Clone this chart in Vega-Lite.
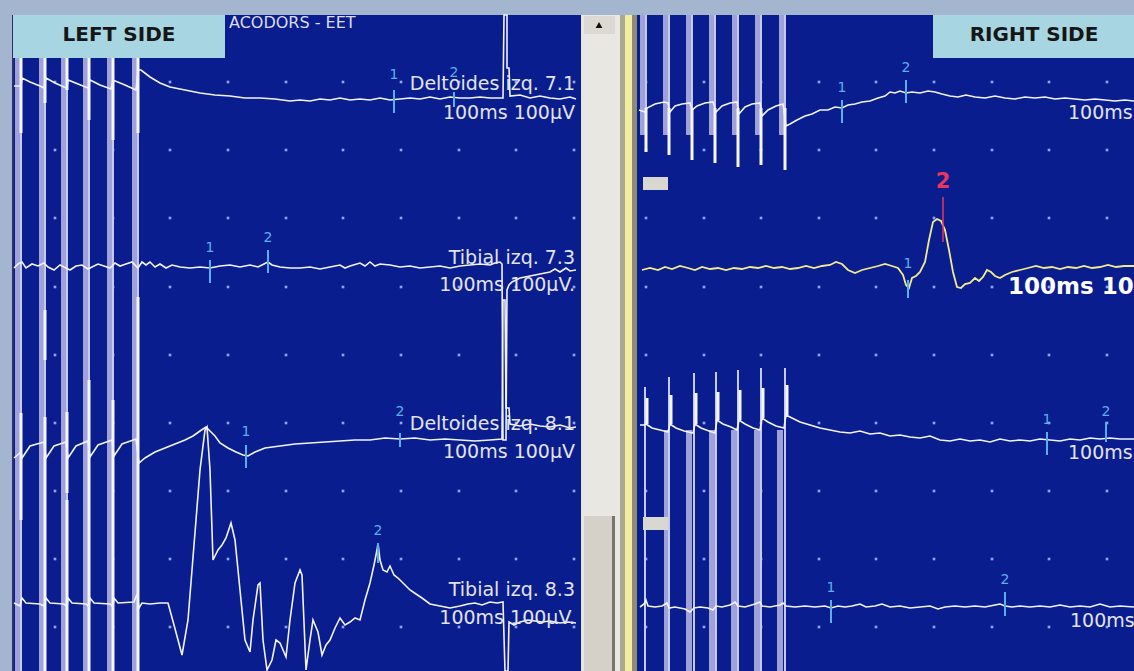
{
"$schema":"https://vega.github.io/schema/vega-lite/v6.json",
"width":1134,"height":671,
"autosize":{"type":"none"},
"padding":0,
"background":"#a3b5cf",
"config":{"view":{"stroke":null},"text":{"font":"DejaVu Sans"}},
"datasets":{
"frame":[
{"part":"panel","x":12,"x2":581,"y":15,"y2":671},
{"part":"panel","x":637,"x2":1134,"y":15,"y2":671},
{"part":"track","x":581,"x2":620,"y":15,"y2":671},
{"part":"thumb","x":584,"x2":612,"y":516,"y2":671},
{"part":"thumbEdge","x":612,"x2":615,"y":516,"y2":671},
{"part":"button","x":584,"x2":615,"y":16,"y2":34},
{"part":"divider","x":620,"x2":625,"y":15,"y2":671},
{"part":"yellow","x":625,"x2":632,"y":15,"y2":671},
{"part":"dividerDark","x":632,"x2":637,"y":15,"y2":671},
{"part":"edge","x":12,"x2":14,"y":15,"y2":671}
],
"frameTop":[
{"part":"box","x":13,"x2":225,"y":15,"y2":58},
{"part":"box","x":933,"x2":1134,"y":15,"y2":58},
{"part":"handle","x":643,"x2":668,"y":177,"y2":190},
{"part":"handle","x":643,"x2":668,"y":517,"y2":530}
],
"arrow":[{"x":599,"y":25}],
"boxText":[{"x":119,"y":35,"t":"LEFT SIDE"},{"x":1034,"y":35,"t":"RIGHT SIDE"}],
"title":[{"x":229,"y":23,"t":"ACODORS - EET"}],
"dots":[
{"x":55,"y":82},{"x":113,"y":82},{"x":170,"y":82},{"x":228,"y":82},{"x":286,"y":82},{"x":343,"y":82},{"x":401,"y":82},{"x":459,"y":82},{"x":516,"y":82},{"x":574,"y":82},
{"x":55,"y":150},{"x":113,"y":150},{"x":170,"y":150},{"x":228,"y":150},{"x":286,"y":150},{"x":343,"y":150},{"x":401,"y":150},{"x":459,"y":150},{"x":516,"y":150},{"x":574,"y":150},
{"x":55,"y":218},{"x":113,"y":218},{"x":170,"y":218},{"x":228,"y":218},{"x":286,"y":218},{"x":343,"y":218},{"x":401,"y":218},{"x":459,"y":218},{"x":516,"y":218},{"x":574,"y":218},
{"x":55,"y":287},{"x":113,"y":287},{"x":170,"y":287},{"x":228,"y":287},{"x":286,"y":287},{"x":343,"y":287},{"x":401,"y":287},{"x":459,"y":287},{"x":516,"y":287},{"x":574,"y":287},
{"x":55,"y":355},{"x":113,"y":355},{"x":170,"y":355},{"x":228,"y":355},{"x":286,"y":355},{"x":343,"y":355},{"x":401,"y":355},{"x":459,"y":355},{"x":516,"y":355},{"x":574,"y":355},
{"x":55,"y":423},{"x":113,"y":423},{"x":170,"y":423},{"x":228,"y":423},{"x":286,"y":423},{"x":343,"y":423},{"x":401,"y":423},{"x":459,"y":423},{"x":516,"y":423},{"x":574,"y":423},
{"x":55,"y":491},{"x":113,"y":491},{"x":170,"y":491},{"x":228,"y":491},{"x":286,"y":491},{"x":343,"y":491},{"x":401,"y":491},{"x":459,"y":491},{"x":516,"y":491},{"x":574,"y":491},
{"x":55,"y":559},{"x":113,"y":559},{"x":170,"y":559},{"x":228,"y":559},{"x":286,"y":559},{"x":343,"y":559},{"x":401,"y":559},{"x":459,"y":559},{"x":516,"y":559},{"x":574,"y":559},
{"x":55,"y":627},{"x":113,"y":627},{"x":170,"y":627},{"x":228,"y":627},{"x":286,"y":627},{"x":343,"y":627},{"x":401,"y":627},{"x":459,"y":627},{"x":516,"y":627},{"x":574,"y":627},
{"x":646,"y":82},{"x":704,"y":82},{"x":761,"y":82},{"x":819,"y":82},{"x":876,"y":82},{"x":934,"y":82},{"x":992,"y":82},{"x":1049,"y":82},{"x":1107,"y":82},
{"x":646,"y":150},{"x":704,"y":150},{"x":761,"y":150},{"x":819,"y":150},{"x":876,"y":150},{"x":934,"y":150},{"x":992,"y":150},{"x":1049,"y":150},{"x":1107,"y":150},
{"x":646,"y":218},{"x":704,"y":218},{"x":761,"y":218},{"x":819,"y":218},{"x":876,"y":218},{"x":934,"y":218},{"x":992,"y":218},{"x":1049,"y":218},{"x":1107,"y":218},
{"x":646,"y":287},{"x":704,"y":287},{"x":761,"y":287},{"x":819,"y":287},{"x":876,"y":287},{"x":934,"y":287},{"x":992,"y":287},{"x":1049,"y":287},{"x":1107,"y":287},
{"x":646,"y":355},{"x":704,"y":355},{"x":761,"y":355},{"x":819,"y":355},{"x":876,"y":355},{"x":934,"y":355},{"x":992,"y":355},{"x":1049,"y":355},{"x":1107,"y":355},
{"x":646,"y":423},{"x":704,"y":423},{"x":761,"y":423},{"x":819,"y":423},{"x":876,"y":423},{"x":934,"y":423},{"x":992,"y":423},{"x":1049,"y":423},{"x":1107,"y":423},
{"x":646,"y":491},{"x":704,"y":491},{"x":761,"y":491},{"x":819,"y":491},{"x":876,"y":491},{"x":934,"y":491},{"x":992,"y":491},{"x":1049,"y":491},{"x":1107,"y":491},
{"x":646,"y":559},{"x":704,"y":559},{"x":761,"y":559},{"x":819,"y":559},{"x":876,"y":559},{"x":934,"y":559},{"x":992,"y":559},{"x":1049,"y":559},{"x":1107,"y":559},
{"x":646,"y":627},{"x":704,"y":627},{"x":761,"y":627},{"x":819,"y":627},{"x":876,"y":627},{"x":934,"y":627},{"x":992,"y":627},{"x":1049,"y":627},{"x":1107,"y":627}
],
"stim":[
{"k":"bar","x":18,"y1":58,"y2":671},{"k":"bar","x":42,"y1":58,"y2":671},{"k":"bar","x":64,"y1":58,"y2":671},{"k":"bar","x":86,"y1":58,"y2":671},{"k":"bar","x":110,"y1":58,"y2":671},{"k":"bar","x":135,"y1":58,"y2":671},
{"k":"thin","x":21,"y1":58,"y2":671},{"k":"thin","x":45,"y1":58,"y2":671},{"k":"thin","x":67,"y1":58,"y2":671},{"k":"thin","x":89,"y1":58,"y2":671},{"k":"thin","x":113,"y1":58,"y2":671},{"k":"thin","x":138,"y1":58,"y2":671},
{"k":"line","x":21,"y1":58,"y2":133},{"k":"line","x":21,"y1":413,"y2":520},
{"k":"line","x":45,"y1":58,"y2":103},{"k":"line","x":45,"y1":310,"y2":360},{"k":"line","x":45,"y1":417,"y2":671},
{"k":"line","x":67,"y1":58,"y2":90},{"k":"line","x":67,"y1":412,"y2":493},{"k":"line","x":67,"y1":500,"y2":671},
{"k":"line","x":89,"y1":58,"y2":120},{"k":"line","x":89,"y1":380,"y2":671},
{"k":"line","x":113,"y1":58,"y2":140},{"k":"line","x":113,"y1":400,"y2":671},
{"k":"line","x":138,"y1":58,"y2":133},{"k":"line","x":138,"y1":297,"y2":671},
{"k":"bar","x":643,"y1":15,"y2":135},{"k":"bar","x":666,"y1":15,"y2":135},{"k":"bar","x":689,"y1":15,"y2":135},{"k":"bar","x":712,"y1":15,"y2":135},{"k":"bar","x":735,"y1":15,"y2":135},{"k":"bar","x":758,"y1":15,"y2":135},{"k":"bar","x":782,"y1":15,"y2":135},
{"k":"thin","x":646,"y1":15,"y2":108},{"k":"thin","x":669,"y1":15,"y2":108},{"k":"thin","x":692,"y1":15,"y2":108},{"k":"thin","x":715,"y1":15,"y2":108},{"k":"thin","x":738,"y1":15,"y2":108},{"k":"thin","x":761,"y1":15,"y2":108},{"k":"thin","x":785,"y1":15,"y2":108},
{"k":"line","x":646,"y1":108,"y2":152},{"k":"line","x":669,"y1":108,"y2":155},{"k":"line","x":692,"y1":108,"y2":160},{"k":"line","x":715,"y1":108,"y2":163},{"k":"line","x":738,"y1":108,"y2":167},{"k":"line","x":761,"y1":108,"y2":165},{"k":"line","x":785,"y1":108,"y2":170},
{"k":"bar","x":667,"y1":430,"y2":671},{"k":"bar","x":689,"y1":430,"y2":671},{"k":"bar","x":712,"y1":430,"y2":671},{"k":"bar","x":734,"y1":430,"y2":671},{"k":"bar","x":757,"y1":430,"y2":671},{"k":"bar","x":780,"y1":430,"y2":671},
{"k":"thin","x":645,"y1":387,"y2":671},{"k":"thin","x":669,"y1":377,"y2":671},{"k":"thin","x":694,"y1":373,"y2":671},{"k":"thin","x":716,"y1":372,"y2":671},{"k":"thin","x":738,"y1":370,"y2":671},{"k":"thin","x":761,"y1":368,"y2":671},{"k":"thin","x":785,"y1":368,"y2":671},
{"k":"line","x":647,"y1":398,"y2":424},{"k":"line","x":671,"y1":395,"y2":424},{"k":"line","x":696,"y1":393,"y2":424},{"k":"line","x":718,"y1":392,"y2":420},{"k":"line","x":740,"y1":390,"y2":420},{"k":"line","x":763,"y1":388,"y2":418},{"k":"line","x":787,"y1":385,"y2":415}
],
"traces":[
{"s":"L1","x":14,"y":86},{"s":"L1","x":21,"y":86},{"s":"L1","x":22,"y":78},{"s":"L1","x":30,"y":82},{"s":"L1","x":40,"y":86},{"s":"L1","x":44,"y":88},{"s":"L1","x":46,"y":78},{"s":"L1","x":55,"y":83},{"s":"L1","x":64,"y":87},{"s":"L1","x":67,"y":88},{"s":"L1","x":68,"y":80},{"s":"L1","x":78,"y":84},{"s":"L1","x":88,"y":88},{"s":"L1","x":90,"y":80},{"s":"L1","x":100,"y":85},{"s":"L1","x":111,"y":89},{"s":"L1","x":113,"y":80},{"s":"L1","x":125,"y":85},{"s":"L1","x":136,"y":90},{"s":"L1","x":138,"y":70},{"s":"L1","x":141,"y":70},{"s":"L1","x":150,"y":77},{"s":"L1","x":160,"y":83},{"s":"L1","x":170,"y":87},{"s":"L1","x":185,"y":90},{"s":"L1","x":200,"y":93},{"s":"L1","x":215,"y":95},{"s":"L1","x":230,"y":96},{"s":"L1","x":245,"y":98},{"s":"L1","x":260,"y":98},{"s":"L1","x":275,"y":99},{"s":"L1","x":290,"y":101},{"s":"L1","x":300,"y":100},{"s":"L1","x":310,"y":101},{"s":"L1","x":320,"y":99},{"s":"L1","x":330,"y":100},{"s":"L1","x":340,"y":98},{"s":"L1","x":350,"y":100},{"s":"L1","x":360,"y":99},{"s":"L1","x":370,"y":100},{"s":"L1","x":380,"y":98},{"s":"L1","x":390,"y":100},{"s":"L1","x":400,"y":99},{"s":"L1","x":410,"y":98},{"s":"L1","x":420,"y":99},{"s":"L1","x":430,"y":97},{"s":"L1","x":440,"y":99},{"s":"L1","x":450,"y":97},{"s":"L1","x":460,"y":98},{"s":"L1","x":470,"y":98},{"s":"L1","x":480,"y":97},{"s":"L1","x":490,"y":98},{"s":"L1","x":503,"y":98},{"s":"L1","x":504,"y":15},{"s":"L1","x":507,"y":15},{"s":"L1","x":507,"y":68},{"s":"L1","x":509,"y":68},{"s":"L1","x":510,"y":96},{"s":"L1","x":520,"y":95},{"s":"L1","x":530,"y":98},{"s":"L1","x":540,"y":96},{"s":"L1","x":550,"y":98},{"s":"L1","x":560,"y":99},{"s":"L1","x":570,"y":97},{"s":"L1","x":576,"y":99},
{"s":"L2","x":14,"y":268},{"s":"L2","x":18,"y":264},{"s":"L2","x":22,"y":262},{"s":"L2","x":26,"y":268},{"s":"L2","x":32,"y":264},{"s":"L2","x":38,"y":266},{"s":"L2","x":44,"y":263},{"s":"L2","x":48,"y":267},{"s":"L2","x":54,"y":270},{"s":"L2","x":60,"y":265},{"s":"L2","x":66,"y":268},{"s":"L2","x":70,"y":270},{"s":"L2","x":76,"y":266},{"s":"L2","x":82,"y":265},{"s":"L2","x":88,"y":269},{"s":"L2","x":92,"y":267},{"s":"L2","x":98,"y":264},{"s":"L2","x":104,"y":266},{"s":"L2","x":110,"y":268},{"s":"L2","x":115,"y":263},{"s":"L2","x":120,"y":266},{"s":"L2","x":126,"y":264},{"s":"L2","x":132,"y":262},{"s":"L2","x":138,"y":268},{"s":"L2","x":142,"y":262},{"s":"L2","x":146,"y":265},{"s":"L2","x":150,"y":262},{"s":"L2","x":155,"y":267},{"s":"L2","x":160,"y":264},{"s":"L2","x":166,"y":268},{"s":"L2","x":172,"y":265},{"s":"L2","x":180,"y":267},{"s":"L2","x":190,"y":268},{"s":"L2","x":200,"y":267},{"s":"L2","x":210,"y":268},{"s":"L2","x":220,"y":266},{"s":"L2","x":230,"y":265},{"s":"L2","x":240,"y":267},{"s":"L2","x":250,"y":265},{"s":"L2","x":258,"y":267},{"s":"L2","x":264,"y":264},{"s":"L2","x":268,"y":262},{"s":"L2","x":272,"y":265},{"s":"L2","x":280,"y":267},{"s":"L2","x":290,"y":268},{"s":"L2","x":300,"y":268},{"s":"L2","x":310,"y":267},{"s":"L2","x":320,"y":269},{"s":"L2","x":330,"y":267},{"s":"L2","x":340,"y":265},{"s":"L2","x":345,"y":268},{"s":"L2","x":350,"y":266},{"s":"L2","x":360,"y":263},{"s":"L2","x":365,"y":266},{"s":"L2","x":370,"y":262},{"s":"L2","x":375,"y":266},{"s":"L2","x":380,"y":264},{"s":"L2","x":390,"y":265},{"s":"L2","x":400,"y":267},{"s":"L2","x":410,"y":266},{"s":"L2","x":420,"y":268},{"s":"L2","x":430,"y":267},{"s":"L2","x":440,"y":266},{"s":"L2","x":450,"y":268},{"s":"L2","x":460,"y":266},{"s":"L2","x":470,"y":265},{"s":"L2","x":480,"y":264},{"s":"L2","x":490,"y":265},{"s":"L2","x":495,"y":263},{"s":"L2","x":500,"y":262},{"s":"L2","x":502,"y":264},{"s":"L2","x":503,"y":440},{"s":"L2","x":506,"y":440},{"s":"L2","x":507,"y":290},{"s":"L2","x":509,"y":285},{"s":"L2","x":512,"y":282},{"s":"L2","x":520,"y":278},{"s":"L2","x":530,"y":276},{"s":"L2","x":540,"y":274},{"s":"L2","x":550,"y":272},{"s":"L2","x":555,"y":269},{"s":"L2","x":560,"y":272},{"s":"L2","x":566,"y":268},{"s":"L2","x":570,"y":271},{"s":"L2","x":576,"y":270},
{"s":"L3","x":14,"y":458},{"s":"L3","x":21,"y":452},{"s":"L3","x":22,"y":458},{"s":"L3","x":30,"y":446},{"s":"L3","x":44,"y":442},{"s":"L3","x":46,"y":458},{"s":"L3","x":54,"y":446},{"s":"L3","x":66,"y":442},{"s":"L3","x":68,"y":458},{"s":"L3","x":76,"y":446},{"s":"L3","x":88,"y":441},{"s":"L3","x":90,"y":457},{"s":"L3","x":98,"y":445},{"s":"L3","x":112,"y":440},{"s":"L3","x":114,"y":456},{"s":"L3","x":122,"y":444},{"s":"L3","x":136,"y":439},{"s":"L3","x":139,"y":463},{"s":"L3","x":145,"y":458},{"s":"L3","x":155,"y":452},{"s":"L3","x":165,"y":448},{"s":"L3","x":175,"y":444},{"s":"L3","x":185,"y":440},{"s":"L3","x":193,"y":436},{"s":"L3","x":200,"y":431},{"s":"L3","x":206,"y":427},{"s":"L3","x":210,"y":431},{"s":"L3","x":215,"y":436},{"s":"L3","x":220,"y":443},{"s":"L3","x":228,"y":448},{"s":"L3","x":236,"y":452},{"s":"L3","x":243,"y":455},{"s":"L3","x":248,"y":456},{"s":"L3","x":255,"y":452},{"s":"L3","x":265,"y":448},{"s":"L3","x":280,"y":446},{"s":"L3","x":295,"y":444},{"s":"L3","x":310,"y":443},{"s":"L3","x":325,"y":442},{"s":"L3","x":340,"y":441},{"s":"L3","x":355,"y":440},{"s":"L3","x":370,"y":440},{"s":"L3","x":385,"y":438},{"s":"L3","x":400,"y":439},{"s":"L3","x":415,"y":438},{"s":"L3","x":430,"y":440},{"s":"L3","x":445,"y":439},{"s":"L3","x":460,"y":440},{"s":"L3","x":475,"y":441},{"s":"L3","x":490,"y":440},{"s":"L3","x":502,"y":439},{"s":"L3","x":503,"y":300},{"s":"L3","x":505,"y":300},{"s":"L3","x":506,"y":408},{"s":"L3","x":509,"y":408},{"s":"L3","x":510,"y":424},{"s":"L3","x":520,"y":426},{"s":"L3","x":530,"y":424},{"s":"L3","x":540,"y":426},{"s":"L3","x":550,"y":427},{"s":"L3","x":560,"y":425},{"s":"L3","x":570,"y":428},{"s":"L3","x":576,"y":427},
{"s":"L4","x":14,"y":603},{"s":"L4","x":20,"y":606},{"s":"L4","x":22,"y":598},{"s":"L4","x":26,"y":603},{"s":"L4","x":40,"y":604},{"s":"L4","x":44,"y":606},{"s":"L4","x":46,"y":598},{"s":"L4","x":50,"y":603},{"s":"L4","x":64,"y":604},{"s":"L4","x":67,"y":607},{"s":"L4","x":68,"y":598},{"s":"L4","x":72,"y":603},{"s":"L4","x":86,"y":604},{"s":"L4","x":89,"y":607},{"s":"L4","x":90,"y":598},{"s":"L4","x":94,"y":603},{"s":"L4","x":110,"y":604},{"s":"L4","x":113,"y":607},{"s":"L4","x":114,"y":598},{"s":"L4","x":118,"y":603},{"s":"L4","x":134,"y":602},{"s":"L4","x":137,"y":594},{"s":"L4","x":139,"y":608},{"s":"L4","x":142,"y":603},{"s":"L4","x":150,"y":604},{"s":"L4","x":160,"y":603},{"s":"L4","x":168,"y":603},{"s":"L4","x":174,"y":625},{"s":"L4","x":182,"y":655},{"s":"L4","x":188,"y":620},{"s":"L4","x":196,"y":520},{"s":"L4","x":200,"y":470},{"s":"L4","x":205,"y":430},{"s":"L4","x":207,"y":427},{"s":"L4","x":210,"y":470},{"s":"L4","x":213,"y":560},{"s":"L4","x":218,"y":550},{"s":"L4","x":222,"y":545},{"s":"L4","x":226,"y":538},{"s":"L4","x":231,"y":523},{"s":"L4","x":235,"y":540},{"s":"L4","x":240,"y":590},{"s":"L4","x":245,"y":640},{"s":"L4","x":250,"y":652},{"s":"L4","x":253,"y":620},{"s":"L4","x":258,"y":585},{"s":"L4","x":260,"y":583},{"s":"L4","x":263,"y":640},{"s":"L4","x":267,"y":670},{"s":"L4","x":272,"y":660},{"s":"L4","x":276,"y":640},{"s":"L4","x":280,"y":643},{"s":"L4","x":283,"y":650},{"s":"L4","x":286,"y":657},{"s":"L4","x":290,"y":620},{"s":"L4","x":295,"y":583},{"s":"L4","x":300,"y":570},{"s":"L4","x":302,"y":575},{"s":"L4","x":306,"y":670},{"s":"L4","x":310,"y":640},{"s":"L4","x":313,"y":620},{"s":"L4","x":318,"y":632},{"s":"L4","x":322,"y":655},{"s":"L4","x":326,"y":645},{"s":"L4","x":330,"y":640},{"s":"L4","x":335,"y":628},{"s":"L4","x":340,"y":618},{"s":"L4","x":345,"y":625},{"s":"L4","x":350,"y":622},{"s":"L4","x":355,"y":618},{"s":"L4","x":360,"y":620},{"s":"L4","x":365,"y":600},{"s":"L4","x":370,"y":583},{"s":"L4","x":374,"y":565},{"s":"L4","x":377,"y":550},{"s":"L4","x":378,"y":543},{"s":"L4","x":380,"y":560},{"s":"L4","x":383,"y":570},{"s":"L4","x":387,"y":572},{"s":"L4","x":390,"y":566},{"s":"L4","x":394,"y":575},{"s":"L4","x":398,"y":578},{"s":"L4","x":404,"y":584},{"s":"L4","x":410,"y":590},{"s":"L4","x":416,"y":594},{"s":"L4","x":422,"y":598},{"s":"L4","x":430,"y":604},{"s":"L4","x":440,"y":606},{"s":"L4","x":450,"y":608},{"s":"L4","x":460,"y":606},{"s":"L4","x":468,"y":604},{"s":"L4","x":475,"y":603},{"s":"L4","x":482,"y":605},{"s":"L4","x":490,"y":602},{"s":"L4","x":497,"y":603},{"s":"L4","x":503,"y":602},{"s":"L4","x":505,"y":671},{"s":"L4","x":508,"y":671},{"s":"L4","x":509,"y":622},{"s":"L4","x":514,"y":625},{"s":"L4","x":520,"y":622},{"s":"L4","x":528,"y":620},{"s":"L4","x":535,"y":621},{"s":"L4","x":542,"y":622},{"s":"L4","x":550,"y":621},{"s":"L4","x":560,"y":623},{"s":"L4","x":568,"y":622},{"s":"L4","x":576,"y":623},
{"s":"R1","x":639,"y":110},{"s":"R1","x":645,"y":112},{"s":"R1","x":647,"y":108},{"s":"R1","x":655,"y":104},{"s":"R1","x":664,"y":102},{"s":"R1","x":668,"y":103},{"s":"R1","x":670,"y":112},{"s":"R1","x":675,"y":106},{"s":"R1","x":682,"y":104},{"s":"R1","x":690,"y":103},{"s":"R1","x":692,"y":110},{"s":"R1","x":697,"y":106},{"s":"R1","x":705,"y":103},{"s":"R1","x":713,"y":102},{"s":"R1","x":716,"y":112},{"s":"R1","x":722,"y":106},{"s":"R1","x":730,"y":103},{"s":"R1","x":737,"y":102},{"s":"R1","x":739,"y":114},{"s":"R1","x":745,"y":107},{"s":"R1","x":752,"y":104},{"s":"R1","x":760,"y":103},{"s":"R1","x":762,"y":116},{"s":"R1","x":768,"y":110},{"s":"R1","x":776,"y":106},{"s":"R1","x":783,"y":104},{"s":"R1","x":786,"y":126},{"s":"R1","x":790,"y":124},{"s":"R1","x":797,"y":120},{"s":"R1","x":805,"y":116},{"s":"R1","x":812,"y":114},{"s":"R1","x":820,"y":110},{"s":"R1","x":828,"y":110},{"s":"R1","x":835,"y":107},{"s":"R1","x":842,"y":108},{"s":"R1","x":848,"y":105},{"s":"R1","x":855,"y":104},{"s":"R1","x":862,"y":102},{"s":"R1","x":870,"y":101},{"s":"R1","x":878,"y":98},{"s":"R1","x":885,"y":96},{"s":"R1","x":890,"y":92},{"s":"R1","x":895,"y":93},{"s":"R1","x":900,"y":91},{"s":"R1","x":906,"y":93},{"s":"R1","x":912,"y":92},{"s":"R1","x":920,"y":93},{"s":"R1","x":928,"y":91},{"s":"R1","x":935,"y":92},{"s":"R1","x":942,"y":94},{"s":"R1","x":950,"y":96},{"s":"R1","x":958,"y":97},{"s":"R1","x":966,"y":95},{"s":"R1","x":975,"y":97},{"s":"R1","x":985,"y":98},{"s":"R1","x":995,"y":96},{"s":"R1","x":1005,"y":98},{"s":"R1","x":1015,"y":99},{"s":"R1","x":1025,"y":97},{"s":"R1","x":1035,"y":98},{"s":"R1","x":1045,"y":97},{"s":"R1","x":1055,"y":99},{"s":"R1","x":1065,"y":98},{"s":"R1","x":1075,"y":99},{"s":"R1","x":1085,"y":100},{"s":"R1","x":1095,"y":99},{"s":"R1","x":1105,"y":100},{"s":"R1","x":1115,"y":101},{"s":"R1","x":1125,"y":100},{"s":"R1","x":1134,"y":101},
{"s":"R2","x":642,"y":270},{"s":"R2","x":650,"y":268},{"s":"R2","x":658,"y":270},{"s":"R2","x":665,"y":267},{"s":"R2","x":672,"y":269},{"s":"R2","x":680,"y":266},{"s":"R2","x":688,"y":268},{"s":"R2","x":695,"y":270},{"s":"R2","x":702,"y":267},{"s":"R2","x":710,"y":269},{"s":"R2","x":718,"y":268},{"s":"R2","x":726,"y":270},{"s":"R2","x":734,"y":268},{"s":"R2","x":742,"y":269},{"s":"R2","x":750,"y":267},{"s":"R2","x":758,"y":268},{"s":"R2","x":766,"y":266},{"s":"R2","x":774,"y":268},{"s":"R2","x":782,"y":267},{"s":"R2","x":790,"y":269},{"s":"R2","x":798,"y":268},{"s":"R2","x":806,"y":266},{"s":"R2","x":814,"y":268},{"s":"R2","x":822,"y":266},{"s":"R2","x":830,"y":265},{"s":"R2","x":836,"y":262},{"s":"R2","x":842,"y":264},{"s":"R2","x":848,"y":270},{"s":"R2","x":855,"y":273},{"s":"R2","x":862,"y":270},{"s":"R2","x":870,"y":268},{"s":"R2","x":878,"y":266},{"s":"R2","x":885,"y":264},{"s":"R2","x":892,"y":266},{"s":"R2","x":898,"y":268},{"s":"R2","x":903,"y":275},{"s":"R2","x":906,"y":285},{"s":"R2","x":909,"y":288},{"s":"R2","x":912,"y":278},{"s":"R2","x":916,"y":276},{"s":"R2","x":920,"y":272},{"s":"R2","x":925,"y":262},{"s":"R2","x":929,"y":240},{"s":"R2","x":933,"y":222},{"s":"R2","x":937,"y":219},{"s":"R2","x":941,"y":221},{"s":"R2","x":945,"y":230},{"s":"R2","x":949,"y":250},{"s":"R2","x":953,"y":272},{"s":"R2","x":957,"y":287},{"s":"R2","x":961,"y":288},{"s":"R2","x":965,"y":284},{"s":"R2","x":970,"y":283},{"s":"R2","x":975,"y":278},{"s":"R2","x":979,"y":281},{"s":"R2","x":983,"y":277},{"s":"R2","x":987,"y":270},{"s":"R2","x":991,"y":272},{"s":"R2","x":995,"y":276},{"s":"R2","x":1000,"y":278},{"s":"R2","x":1005,"y":275},{"s":"R2","x":1012,"y":272},{"s":"R2","x":1020,"y":270},{"s":"R2","x":1028,"y":268},{"s":"R2","x":1036,"y":266},{"s":"R2","x":1044,"y":268},{"s":"R2","x":1052,"y":267},{"s":"R2","x":1060,"y":269},{"s":"R2","x":1068,"y":267},{"s":"R2","x":1076,"y":268},{"s":"R2","x":1084,"y":266},{"s":"R2","x":1092,"y":268},{"s":"R2","x":1100,"y":267},{"s":"R2","x":1108,"y":265},{"s":"R2","x":1116,"y":267},{"s":"R2","x":1124,"y":266},{"s":"R2","x":1134,"y":266},
{"s":"R3","x":640,"y":425},{"s":"R3","x":644,"y":425},{"s":"R3","x":646,"y":424},{"s":"R3","x":652,"y":428},{"s":"R3","x":660,"y":430},{"s":"R3","x":668,"y":432},{"s":"R3","x":670,"y":424},{"s":"R3","x":676,"y":428},{"s":"R3","x":684,"y":431},{"s":"R3","x":693,"y":433},{"s":"R3","x":695,"y":424},{"s":"R3","x":701,"y":428},{"s":"R3","x":709,"y":431},{"s":"R3","x":715,"y":433},{"s":"R3","x":717,"y":420},{"s":"R3","x":723,"y":424},{"s":"R3","x":731,"y":427},{"s":"R3","x":737,"y":430},{"s":"R3","x":739,"y":420},{"s":"R3","x":745,"y":424},{"s":"R3","x":753,"y":428},{"s":"R3","x":760,"y":430},{"s":"R3","x":762,"y":418},{"s":"R3","x":768,"y":422},{"s":"R3","x":776,"y":426},{"s":"R3","x":784,"y":428},{"s":"R3","x":786,"y":415},{"s":"R3","x":792,"y":418},{"s":"R3","x":800,"y":422},{"s":"R3","x":810,"y":425},{"s":"R3","x":820,"y":428},{"s":"R3","x":830,"y":430},{"s":"R3","x":840,"y":432},{"s":"R3","x":850,"y":433},{"s":"R3","x":860,"y":431},{"s":"R3","x":870,"y":434},{"s":"R3","x":880,"y":433},{"s":"R3","x":890,"y":436},{"s":"R3","x":900,"y":435},{"s":"R3","x":910,"y":437},{"s":"R3","x":920,"y":438},{"s":"R3","x":930,"y":436},{"s":"R3","x":940,"y":440},{"s":"R3","x":950,"y":441},{"s":"R3","x":960,"y":439},{"s":"R3","x":970,"y":441},{"s":"R3","x":980,"y":440},{"s":"R3","x":990,"y":442},{"s":"R3","x":1000,"y":439},{"s":"R3","x":1010,"y":441},{"s":"R3","x":1020,"y":440},{"s":"R3","x":1030,"y":441},{"s":"R3","x":1040,"y":439},{"s":"R3","x":1050,"y":440},{"s":"R3","x":1060,"y":441},{"s":"R3","x":1070,"y":439},{"s":"R3","x":1080,"y":440},{"s":"R3","x":1090,"y":438},{"s":"R3","x":1100,"y":439},{"s":"R3","x":1110,"y":438},{"s":"R3","x":1120,"y":439},{"s":"R3","x":1134,"y":439},
{"s":"R4","x":640,"y":607},{"s":"R4","x":644,"y":604},{"s":"R4","x":646,"y":600},{"s":"R4","x":648,"y":606},{"s":"R4","x":655,"y":607},{"s":"R4","x":662,"y":606},{"s":"R4","x":667,"y":603},{"s":"R4","x":669,"y":608},{"s":"R4","x":675,"y":607},{"s":"R4","x":685,"y":609},{"s":"R4","x":690,"y":612},{"s":"R4","x":694,"y":608},{"s":"R4","x":700,"y":607},{"s":"R4","x":708,"y":608},{"s":"R4","x":713,"y":610},{"s":"R4","x":716,"y":606},{"s":"R4","x":722,"y":607},{"s":"R4","x":730,"y":605},{"s":"R4","x":735,"y":602},{"s":"R4","x":738,"y":606},{"s":"R4","x":745,"y":607},{"s":"R4","x":755,"y":604},{"s":"R4","x":760,"y":602},{"s":"R4","x":762,"y":606},{"s":"R4","x":770,"y":607},{"s":"R4","x":780,"y":605},{"s":"R4","x":783,"y":603},{"s":"R4","x":786,"y":606},{"s":"R4","x":795,"y":607},{"s":"R4","x":805,"y":606},{"s":"R4","x":815,"y":607},{"s":"R4","x":825,"y":606},{"s":"R4","x":831,"y":608},{"s":"R4","x":838,"y":606},{"s":"R4","x":845,"y":607},{"s":"R4","x":852,"y":606},{"s":"R4","x":860,"y":604},{"s":"R4","x":866,"y":607},{"s":"R4","x":875,"y":606},{"s":"R4","x":882,"y":604},{"s":"R4","x":890,"y":607},{"s":"R4","x":900,"y":606},{"s":"R4","x":910,"y":608},{"s":"R4","x":920,"y":607},{"s":"R4","x":930,"y":606},{"s":"R4","x":938,"y":609},{"s":"R4","x":945,"y":607},{"s":"R4","x":955,"y":606},{"s":"R4","x":965,"y":607},{"s":"R4","x":975,"y":606},{"s":"R4","x":985,"y":607},{"s":"R4","x":995,"y":605},{"s":"R4","x":1000,"y":604},{"s":"R4","x":1005,"y":606},{"s":"R4","x":1012,"y":607},{"s":"R4","x":1020,"y":606},{"s":"R4","x":1030,"y":607},{"s":"R4","x":1040,"y":606},{"s":"R4","x":1050,"y":607},{"s":"R4","x":1060,"y":605},{"s":"R4","x":1070,"y":607},{"s":"R4","x":1080,"y":606},{"s":"R4","x":1090,"y":607},{"s":"R4","x":1100,"y":604},{"s":"R4","x":1110,"y":607},{"s":"R4","x":1120,"y":606},{"s":"R4","x":1134,"y":607}
],
"markers":[
{"t":"1","x":394,"y1":90,"y2":113,"ly":75,"sel":false},
{"t":"2","x":454,"y1":92,"y2":107,"ly":73,"sel":false},
{"t":"1","x":210,"y1":260,"y2":283,"ly":248,"sel":false},
{"t":"2","x":268,"y1":250,"y2":273,"ly":238,"sel":false},
{"t":"1","x":246,"y1":445,"y2":468,"ly":432,"sel":false},
{"t":"2","x":400,"y1":433,"y2":447,"ly":412,"sel":false},
{"t":"2","x":378,"y1":543,"y2":563,"ly":531,"sel":false},
{"t":"1","x":842,"y1":100,"y2":123,"ly":88,"sel":false},
{"t":"2","x":906,"y1":80,"y2":103,"ly":68,"sel":false},
{"t":"1","x":908,"y1":280,"y2":298,"ly":264,"sel":false},
{"t":"2","x":943,"y1":197,"y2":242,"ly":182,"sel":true},
{"t":"1","x":1047,"y1":432,"y2":455,"ly":420,"sel":false},
{"t":"2","x":1106,"y1":422,"y2":442,"ly":412,"sel":false},
{"t":"1","x":831,"y1":600,"y2":623,"ly":588,"sel":false},
{"t":"2","x":1005,"y1":592,"y2":616,"ly":580,"sel":false}
],
"labels":[
{"side":"L","x":575,"y":84,"t":"Deltoides izq. 7.1"},
{"side":"L","x":575,"y":113,"t":"100ms 100µV"},
{"side":"L","x":575,"y":258,"t":"Tibial izq. 7.3"},
{"side":"L","x":575,"y":285,"t":"100ms 100µV."},
{"side":"L","x":575,"y":424,"t":"Deltoides izq. 8.1"},
{"side":"L","x":575,"y":452,"t":"100ms 100µV"},
{"side":"L","x":575,"y":590,"t":"Tibial izq. 8.3"},
{"side":"L","x":575,"y":618,"t":"100ms 100µV."},
{"side":"R","x":1068,"y":113,"t":"100ms 100µV"},
{"side":"B","x":1008,"y":287,"t":"100ms 100µV"},
{"side":"R","x":1068,"y":453,"t":"100ms 100µV"},
{"side":"R","x":1070,"y":621,"t":"100ms 100µV"}
]
},
"layer":[
{"data":{"name":"frame"},"mark":{"type":"rect"},
 "encoding":{
  "x":{"field":"x","type":"quantitative","scale":{"domain":[0,1134],"nice":false,"zero":false},"axis":null},
  "x2":{"field":"x2"},
  "y":{"field":"y","type":"quantitative","scale":{"domain":[0,671],"nice":false,"zero":false,"reverse":true},"axis":null},
  "y2":{"field":"y2"},
  "color":{"field":"part","type":"nominal","legend":null,"scale":{"domain":["panel","track","thumb","thumbEdge","button","divider","yellow","dividerDark","edge","box","handle"],"range":["#0a1d8e","#e9e7e2","#d5d1c9","#76766d","#dcd9d2","#aaa893","#f3ed9f","#8d8b7b","#2a3070","#a7d5e2","#d9d7d1"]}}
 }},
{"data":{"name":"dots"},"mark":{"type":"square","size":7,"color":"#8ea4ee","opacity":1},
 "encoding":{
  "x":{"field":"x","type":"quantitative","axis":null},
  "y":{"field":"y","type":"quantitative","axis":null}
 }},
{"data":{"name":"stim"},"transform":[{"filter":"datum.k == 'bar'"}],"mark":{"type":"rule","color":"#9ea2d8","strokeWidth":6},
 "encoding":{"x":{"field":"x","type":"quantitative","axis":null},"y":{"field":"y1","type":"quantitative","axis":null},"y2":{"field":"y2"}}},
{"data":{"name":"stim"},"transform":[{"filter":"datum.k == 'thin'"}],"mark":{"type":"rule","color":"#c6c9f2","strokeWidth":2},
 "encoding":{"x":{"field":"x","type":"quantitative","axis":null},"y":{"field":"y1","type":"quantitative","axis":null},"y2":{"field":"y2"}}},
{"data":{"name":"stim"},"transform":[{"filter":"datum.k == 'line'"}],"mark":{"type":"rule","color":"#f6f6f6","strokeWidth":3},
 "encoding":{"x":{"field":"x","type":"quantitative","axis":null},"y":{"field":"y1","type":"quantitative","axis":null},"y2":{"field":"y2"}}},
{"data":{"name":"traces"},"transform":[{"filter":"datum.s != 'R2'"}],"mark":{"type":"line","color":"#f2f2f6","strokeWidth":1.6},
 "encoding":{"x":{"field":"x","type":"quantitative","axis":null},"y":{"field":"y","type":"quantitative","axis":null},"detail":{"field":"s"},"order":{"value":null}}},
{"data":{"name":"traces"},"transform":[{"filter":"datum.s == 'R2'"}],"mark":{"type":"line","color":"#f3ea8e","strokeWidth":1.8},
 "encoding":{"x":{"field":"x","type":"quantitative","axis":null},"y":{"field":"y","type":"quantitative","axis":null},"detail":{"field":"s"},"order":{"value":null}}},
{"data":{"name":"markers"},"transform":[{"filter":"!datum.sel"}],"mark":{"type":"rule","color":"#5aaeea","strokeWidth":2},
 "encoding":{"x":{"field":"x","type":"quantitative","axis":null},"y":{"field":"y1","type":"quantitative","axis":null},"y2":{"field":"y2"}}},
{"data":{"name":"markers"},"transform":[{"filter":"datum.sel"}],"mark":{"type":"rule","color":"#e8365e","strokeWidth":1.5},
 "encoding":{"x":{"field":"x","type":"quantitative","axis":null},"y":{"field":"y1","type":"quantitative","axis":null},"y2":{"field":"y2"}}},
{"data":{"name":"markers"},"transform":[{"filter":"!datum.sel"}],"mark":{"type":"text","color":"#5aaeea","fontSize":14,"baseline":"middle","align":"center"},
 "encoding":{"x":{"field":"x","type":"quantitative","axis":null},"y":{"field":"ly","type":"quantitative","axis":null},"text":{"field":"t"}}},
{"data":{"name":"markers"},"transform":[{"filter":"datum.sel"}],"mark":{"type":"text","color":"#e8365e","fontSize":21,"fontWeight":"bold","baseline":"middle","align":"center"},
 "encoding":{"x":{"field":"x","type":"quantitative","axis":null},"y":{"field":"ly","type":"quantitative","axis":null},"text":{"field":"t"}}},
{"data":{"name":"labels"},"transform":[{"filter":"datum.side == 'L'"}],"mark":{"type":"text","color":"#e2e3ee","fontSize":19,"baseline":"middle","align":"right"},
 "encoding":{"x":{"field":"x","type":"quantitative","axis":null},"y":{"field":"y","type":"quantitative","axis":null},"text":{"field":"t"}}},
{"data":{"name":"labels"},"transform":[{"filter":"datum.side == 'R'"}],"mark":{"type":"text","color":"#e2e3ee","fontSize":19,"baseline":"middle","align":"left"},
 "encoding":{"x":{"field":"x","type":"quantitative","axis":null},"y":{"field":"y","type":"quantitative","axis":null},"text":{"field":"t"}}},
{"data":{"name":"labels"},"transform":[{"filter":"datum.side == 'B'"}],"mark":{"type":"text","color":"#ffffff","fontSize":23,"fontWeight":"bold","baseline":"middle","align":"left"},
 "encoding":{"x":{"field":"x","type":"quantitative","axis":null},"y":{"field":"y","type":"quantitative","axis":null},"text":{"field":"t"}}},
{"data":{"name":"title"},"mark":{"type":"text","color":"#dcdcec","fontSize":16,"baseline":"middle","align":"left"},
 "encoding":{"x":{"field":"x","type":"quantitative","axis":null},"y":{"field":"y","type":"quantitative","axis":null},"text":{"field":"t"}}},
{"data":{"name":"frameTop"},"mark":{"type":"rect"},
 "encoding":{
  "x":{"field":"x","type":"quantitative","axis":null},
  "x2":{"field":"x2"},
  "y":{"field":"y","type":"quantitative","axis":null},
  "y2":{"field":"y2"},
  "color":{"field":"part","type":"nominal","legend":null}
 }},
{"data":{"name":"boxText"},"mark":{"type":"text","color":"#161616","fontSize":20,"fontWeight":"bold","baseline":"middle","align":"center"},
 "encoding":{"x":{"field":"x","type":"quantitative","axis":null},"y":{"field":"y","type":"quantitative","axis":null},"text":{"field":"t"}}},
{"data":{"name":"arrow"},"mark":{"type":"point","shape":"triangle-up","filled":true,"size":45,"color":"#111111","opacity":1},
 "encoding":{"x":{"field":"x","type":"quantitative","axis":null},"y":{"field":"y","type":"quantitative","axis":null}}}
]
}
